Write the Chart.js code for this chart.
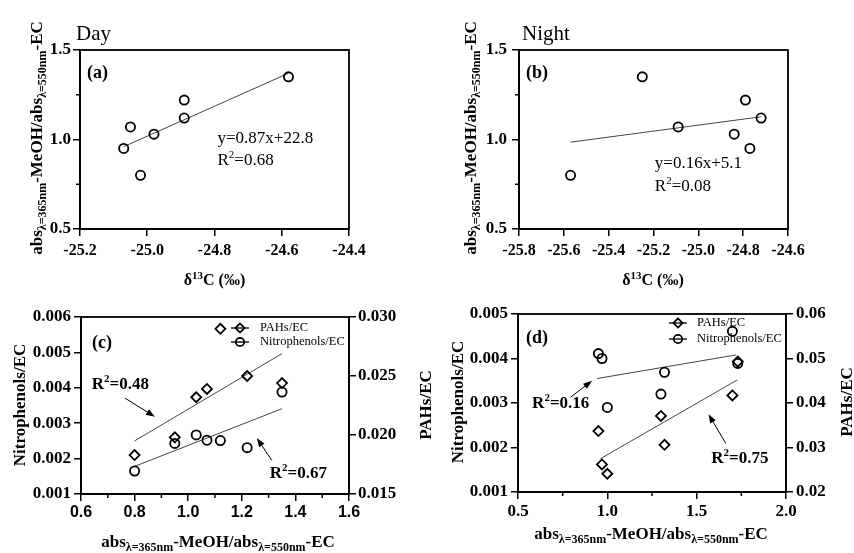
<!DOCTYPE html>
<html>
<head>
<meta charset="utf-8">
<script src="https://cdn.jsdelivr.net/npm/chart.js@4.4.0/dist/chart.umd.min.js"></script>
<style>
  html, body { margin: 0; padding: 0; background: #fff; }
  #wrap { position: relative; width: 854px; height: 553px; }
  #wrap canvas { position: absolute; left: 0; top: 0; }
</style>
</head>
<body>
<div id="wrap">
  <canvas id="chartA" width="854" height="553"></canvas>
  <canvas id="chartB" width="854" height="553"></canvas>
  <canvas id="chartC" width="854" height="553"></canvas>
  <canvas id="chartD" width="854" height="553"></canvas>
</div>
<script>
"use strict";

// ---------- Data ----------
// (a) Day: d13C vs abs ratio
const dayD13C = [-25.07, -25.05, -25.02, -24.98, -24.89, -24.89, -24.58];
const dayAbs = [0.95, 1.07, 0.80, 1.03, 1.22, 1.12, 1.35];
const dayFitX = [-25.07, -24.58];
const dayFitY = [0.96, 1.37];

// (b) Night
const nightD13C = [-25.57, -25.25, -25.09, -24.84, -24.79, -24.77, -24.72];
const nightAbs = [0.80, 1.35, 1.07, 1.03, 1.22, 0.95, 1.12];
const nightFitX = [-25.57, -24.72];
const nightFitY = [0.985, 1.127];

// (c) Day: abs ratio vs Nitrophenols/EC and PAHs/EC
const cRatio = [0.80, 0.95, 1.03, 1.07, 1.12, 1.22, 1.35];
const cNitro = [0.00165, 0.00243, 0.00267, 0.00252, 0.00251, 0.00231, 0.00388];
const cPAHs = [0.0183, 0.0198, 0.0232, 0.0239, 0.0290, 0.0250, 0.0244];
const cNitroFitX = [0.80, 1.35];
const cNitroFitY = [0.00178, 0.00341];
const cPAHsFitX = [0.80, 1.35];
const cPAHsFitY = [0.0195, 0.0269];

// (d) Night
const dRatio = [0.95, 0.97, 1.00, 1.30, 1.32, 1.70, 1.73];
const dNitro = [0.00411, 0.00400, 0.00290, 0.00320, 0.00369, 0.00461, 0.00389];
const dPAHs = [0.0337, 0.0262, 0.0241, 0.0371, 0.0306, 0.0417, 0.0493];
const dNitroFitX = [0.943, 1.72];
const dNitroFitY = [0.00355, 0.00408];
const dPAHsFitX = [0.962, 1.728];
const dPAHsFitY = [0.0275, 0.0452];

// tick labels
const dayXTicks = [-25.2, -25.0, -24.8, -24.6, -24.4];
const nightXTicks = [-25.8, -25.6, -25.4, -25.2, -25.0, -24.8, -24.6];
const absTicks = [0.5, 1.0, 1.5];
const absMinor = [0.75, 1.25];
const cXTicks = [0.6, 0.8, 1.0, 1.2, 1.4, 1.6];
const cXMinor = [0.7, 0.9, 1.1, 1.3, 1.5];
const cNitroTicks = [0.001, 0.002, 0.003, 0.004, 0.005, 0.006];
const cPAHsTicks = [0.015, 0.020, 0.025, 0.030];
const dXTicks = [0.5, 1.0, 1.5, 2.0];
const dXMinor = [0.75, 1.25, 1.75];
const dNitroTicks = [0.001, 0.002, 0.003, 0.004, 0.005];
const dPAHsTicks = [0.02, 0.03, 0.04, 0.05, 0.06];

// ---------- Styling ----------
const SERIF = "'Liberation Serif', 'Times New Roman', serif";
const SANS = "'Liberation Sans', Arial, sans-serif";
const W = 854, H = 553;
const Y_W = 60, X_H = 40;

const absTitle = [["abs", ""], ["λ=365nm", "sub"], ["-MeOH/abs", ""], ["λ=550nm", "sub"], ["-EC", ""]];
const d13Title = [["δ", ""], ["13", "sup"], ["C (‰)", ""]];

function pts(xs, ys) {
  return xs.map((x, i) => ({ x, y: ys[i] }));
}

function drawRich(ctx, segs, x, y, o) {
  ctx.save();
  ctx.translate(x, y);
  if (o.rotate) ctx.rotate(o.rotate);
  const fam = o.family || SERIF;
  const fontFor = k => `${o.weight || "bold"} ${k ? o.small : o.size}px ${fam}`;
  let total = 0;
  const widths = segs.map(([t, k]) => {
    ctx.font = fontFor(k);
    const w = ctx.measureText(t).width;
    total += w;
    return w;
  });
  let cx = o.align === "center" ? -total / 2 : 0;
  ctx.fillStyle = "#000";
  ctx.textBaseline = "alphabetic";
  ctx.textAlign = "left";
  segs.forEach(([t, k], i) => {
    ctx.font = fontFor(k);
    const dy = k === "sub" ? o.size * 0.26 : (k === "sup" ? -o.size * 0.4 : 0);
    ctx.fillText(t, cx, dy);
    cx += widths[i];
  });
  ctx.restore();
}

function drawArrow(ctx, x1, y1, x2, y2) {
  const a = Math.atan2(y2 - y1, x2 - x1);
  const L = 9, Wd = 3.2;
  ctx.save();
  ctx.strokeStyle = "#000";
  ctx.fillStyle = "#000";
  ctx.lineWidth = 1;
  ctx.beginPath();
  ctx.moveTo(x1, y1);
  ctx.lineTo(x2 - L * Math.cos(a) * 0.8, y2 - L * Math.sin(a) * 0.8);
  ctx.stroke();
  ctx.beginPath();
  ctx.moveTo(x2, y2);
  ctx.lineTo(x2 - L * Math.cos(a) + Wd * Math.sin(a), y2 - L * Math.sin(a) - Wd * Math.cos(a));
  ctx.lineTo(x2 - L * Math.cos(a) - Wd * Math.sin(a), y2 - L * Math.sin(a) + Wd * Math.cos(a));
  ctx.closePath();
  ctx.fill();
  ctx.restore();
}

function axis(o) {
  const horizontal = o.position === "bottom";
  return {
    type: "linear",
    position: o.position,
    min: o.min,
    max: o.max,
    afterBuildTicks: s => { s.ticks = o.ticks.map(v => ({ value: v })); },
    afterFit: s => {
      if (horizontal) s.height = X_H; else s.width = Y_W;
      s.paddingLeft = 0; s.paddingRight = 0; s.paddingTop = 0; s.paddingBottom = 0;
    },
    ticks: {
      autoSkip: false,
      maxRotation: 0,
      color: "#000",
      padding: o.pad == null ? 3 : o.pad,
      font: { family: o.family || SERIF, size: o.size || 17, weight: "bold" },
      callback: v => Number(v).toFixed(o.dec)
    },
    grid: { drawOnChartArea: false, drawTicks: true, tickLength: 7, color: "#000", lineWidth: 1.5 },
    border: { display: true, color: "#000", width: 1.8 }
  };
}

function scatterSet(xs, ys, style, axisId) {
  return {
    data: pts(xs, ys),
    yAxisID: axisId,
    pointStyle: style,
    pointRadius: style === "rectRot" ? 5 : 4.6,
    pointBorderWidth: 1.8,
    borderColor: "#000",
    backgroundColor: "rgba(0,0,0,0)",
    showLine: false
  };
}

function fitSet(xs, ys, axisId) {
  return {
    data: pts(xs, ys),
    yAxisID: axisId,
    showLine: true,
    pointRadius: 0,
    borderColor: "#444",
    borderWidth: 1,
    backgroundColor: "rgba(0,0,0,0)"
  };
}

// decorations plugin: frame, minor ticks, texts, legend, arrows
function decor(spec) {
  return {
    id: "decor",
    afterDraw(chart) {
      const ctx = chart.ctx;
      const a = chart.chartArea;
      const sx = chart.scales.x;
      ctx.save();
      ctx.strokeStyle = "#000";
      ctx.lineWidth = 1.8;
      ctx.strokeRect(a.left, a.top, a.right - a.left, a.bottom - a.top);
      ctx.lineWidth = 1.5;
      (spec.minor || []).forEach(([id, vals]) => {
        const s = chart.scales[id];
        vals.forEach(v => {
          const p = s.getPixelForValue(v);
          ctx.beginPath();
          if (id === "x") { ctx.moveTo(p, a.bottom); ctx.lineTo(p, a.bottom + 4); }
          else { ctx.moveTo(a.left, p); ctx.lineTo(a.left - 4, p); }
          ctx.stroke();
        });
      });
      ctx.restore();

      (spec.texts || []).forEach(t => {
        let x = t.x, y = t.y;
        if (t.data) { x = sx.getPixelForValue(t.data[0]); y = chart.scales[t.axis || "y"].getPixelForValue(t.data[1]); }
        drawRich(ctx, t.segs, x, y, t);
      });

      (spec.arrows || []).forEach(ar => {
        const ys = chart.scales[ar.axis || "y"];
        drawArrow(ctx, sx.getPixelForValue(ar.from[0]), ys.getPixelForValue(ar.from[1]),
          sx.getPixelForValue(ar.to[0]), ys.getPixelForValue(ar.to[1]));
      });

      if (spec.legend) {
        const lg = spec.legend;
        lg.items.forEach((it, i) => {
          const y = lg.y + i * lg.dy;
          ctx.save();
          ctx.strokeStyle = "#000";
          ctx.lineWidth = 1.3;
          ctx.beginPath();
          ctx.moveTo(lg.x - 9, y);
          ctx.lineTo(lg.x + 9, y);
          ctx.stroke();
          ctx.lineWidth = 1.8;
          ctx.fillStyle = "rgba(0,0,0,0)";
          Chart.helpers.drawPoint(ctx, { pointStyle: it.style, radius: it.style === "rectRot" ? 4.6 : 4.2, borderWidth: 1.8 }, lg.x, y);
          ctx.fillStyle = "#000";
          ctx.font = `12.5px ${SERIF}`;
          ctx.textBaseline = "middle";
          ctx.fillText(it.label, lg.x + lg.gap, y);
          ctx.restore();
        });
      }
    }
  };
}

function makeChart(id, box, datasets, scales, spec) {
  const rightW = scales.y1 ? Y_W : 0;
  return new Chart(document.getElementById(id), {
    type: "scatter",
    data: { datasets },
    options: {
      responsive: false,
      animation: false,
      events: [],
      layout: {
        padding: {
          left: box.l - Y_W,
          right: W - box.r - rightW,
          top: box.t,
          bottom: H - box.b - X_H
        }
      },
      plugins: { legend: { display: false }, tooltip: { enabled: false } },
      scales
    },
    plugins: [decor(spec)]
  });
}

// ---------- Panel (a) ----------
makeChart("chartA", { l: 80, r: 349, t: 50, b: 229 },
  [scatterSet(dayD13C, dayAbs, "circle", "y"), fitSet(dayFitX, dayFitY, "y")],
  {
    x: axis({ position: "bottom", min: -25.2, max: -24.4, ticks: dayXTicks, dec: 1, size: 16, pad: 5 }),
    y: axis({ position: "left", min: 0.5, max: 1.5, ticks: absTicks, dec: 1, pad: 2 })
  },
  {
    minor: [["y", absMinor]],
    texts: [
      { segs: [["Day", ""]], x: 76, y: 40, size: 21, weight: "normal" },
      { segs: [["(a)", ""]], x: 87, y: 78, size: 18 },
      { segs: [["y=0.87x+22.8", ""]], data: [-24.791, 0.98], size: 17, weight: "normal" },
      { segs: [["R", ""], ["2", "sup"], ["=0.68", ""]], data: [-24.791, 0.86], size: 17, small: 11, weight: "normal" },
      { segs: absTitle, x: 42, y: 138, size: 17, small: 12, rotate: -Math.PI / 2, align: "center" },
      { segs: d13Title, x: 214.5, y: 285, size: 16, small: 11, align: "center" }
    ]
  });

// ---------- Panel (b) ----------
makeChart("chartB", { l: 519, r: 788, t: 50, b: 229 },
  [scatterSet(nightD13C, nightAbs, "circle", "y"), fitSet(nightFitX, nightFitY, "y")],
  {
    x: axis({ position: "bottom", min: -25.8, max: -24.6, ticks: nightXTicks, dec: 1, size: 16, pad: 5 }),
    y: axis({ position: "left", min: 0.5, max: 1.5, ticks: absTicks, dec: 1, pad: 5 })
  },
  {
    minor: [["y", absMinor]],
    texts: [
      { segs: [["Night", ""]], x: 522, y: 40, size: 21, weight: "normal" },
      { segs: [["(b)", ""]], x: 526, y: 78, size: 18 },
      { segs: [["y=0.16x+5.1", ""]], data: [-25.194, 0.84], size: 17, weight: "normal" },
      { segs: [["R", ""], ["2", "sup"], ["=0.08", ""]], data: [-25.194, 0.713], size: 17, small: 11, weight: "normal" },
      { segs: absTitle, x: 476, y: 138, size: 17, small: 12, rotate: -Math.PI / 2, align: "center" },
      { segs: d13Title, x: 653, y: 285, size: 16, small: 11, align: "center" }
    ]
  });

// ---------- Panel (c) ----------
makeChart("chartC", { l: 81, r: 349, t: 317, b: 494 },
  [
    scatterSet(cRatio, cPAHs, "rectRot", "y1"),
    scatterSet(cRatio, cNitro, "circle", "y"),
    fitSet(cPAHsFitX, cPAHsFitY, "y1"),
    fitSet(cNitroFitX, cNitroFitY, "y")
  ],
  {
    x: axis({ position: "bottom", min: 0.6, max: 1.6, ticks: cXTicks, dec: 1, size: 16, family: SANS, pad: 2 }),
    y: axis({ position: "left", min: 0.001, max: 0.006, ticks: cNitroTicks, dec: 3, pad: 3 }),
    y1: axis({ position: "right", min: 0.015, max: 0.030, ticks: cPAHsTicks, dec: 3, pad: 2 })
  },
  {
    minor: [["x", cXMinor]],
    legend: { x: 240, y: 328, dy: 14, gap: 20, items: [{ label: "PAHs/EC", style: "rectRot" }, { label: "Nitrophenols/EC", style: "circle" }] },
    arrows: [
      { from: [0.764, 0.00371], to: [0.876, 0.00318] },
      { from: [1.312, 0.00195], to: [1.256, 0.00258] }
    ],
    texts: [
      { segs: [["(c)", ""]], x: 92, y: 348, size: 18 },
      { segs: [["R", ""], ["2", "sup"], ["=0.48", ""]], data: [0.64, 0.00396], size: 17, small: 11 },
      { segs: [["R", ""], ["2", "sup"], ["=0.67", ""]], data: [1.304, 0.00145], size: 17, small: 11 },
      { segs: [["Nitrophenols/EC", ""]], x: 25, y: 405, size: 17, rotate: -Math.PI / 2, align: "center" },
      { segs: [["PAHs/EC", ""]], x: 431, y: 405, size: 17, rotate: -Math.PI / 2, align: "center" },
      { segs: absTitle, x: 218, y: 547, size: 17, small: 12, align: "center" }
    ]
  });

// ---------- Panel (d) ----------
makeChart("chartD", { l: 518, r: 786, t: 314, b: 492 },
  [
    scatterSet(dRatio, dPAHs, "rectRot", "y1"),
    scatterSet(dRatio, dNitro, "circle", "y"),
    fitSet(dPAHsFitX, dPAHsFitY, "y1"),
    fitSet(dNitroFitX, dNitroFitY, "y")
  ],
  {
    x: axis({ position: "bottom", min: 0.5, max: 2.0, ticks: dXTicks, dec: 1, size: 17, pad: 2 }),
    y: axis({ position: "left", min: 0.001, max: 0.005, ticks: dNitroTicks, dec: 3, pad: 3 }),
    y1: axis({ position: "right", min: 0.02, max: 0.06, ticks: dPAHsTicks, dec: 2, pad: 3 })
  },
  {
    minor: [["x", dXMinor]],
    legend: { x: 678, y: 323, dy: 16, gap: 19, items: [{ label: "PAHs/EC", style: "rectRot" }, { label: "Nitrophenols/EC", style: "circle" }] },
    arrows: [
      { from: [0.794, 0.00313], to: [0.915, 0.00350] },
      { from: [1.663, 0.00209], to: [1.566, 0.00275] }
    ],
    texts: [
      { segs: [["(d)", ""]], x: 526, y: 343, size: 18 },
      { segs: [["R", ""], ["2", "sup"], ["=0.16", ""]], data: [0.579, 0.00289], size: 17, small: 11 },
      { segs: [["R", ""], ["2", "sup"], ["=0.75", ""]], data: [1.582, 0.00165], size: 17, small: 11 },
      { segs: [["Nitrophenols/EC", ""]], x: 463, y: 402, size: 17, rotate: -Math.PI / 2, align: "center" },
      { segs: [["PAHs/EC", ""]], x: 852, y: 402, size: 17, rotate: -Math.PI / 2, align: "center" },
      { segs: absTitle, x: 651, y: 539, size: 17, small: 12, align: "center" }
    ]
  });
</script>
</body>
</html>
